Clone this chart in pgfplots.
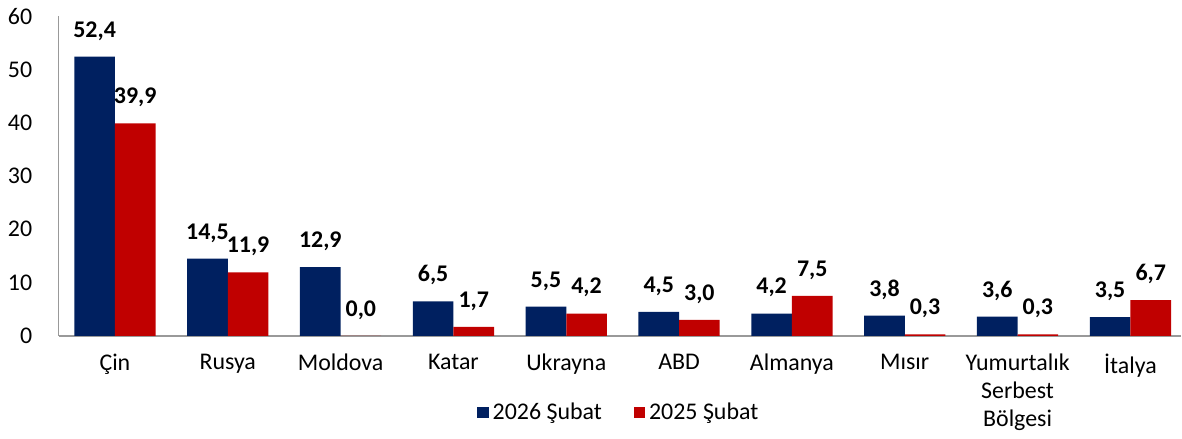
\documentclass[border=0pt]{standalone}
\usepackage{pgfplots}
\pgfplotsset{compat=1.18}
\usepackage{fontspec}
\setmainfont{Carlito}
\definecolor{navy}{HTML}{002060}
\definecolor{darkred}{HTML}{C00000}
\begin{document}
\fontsize{12}{14}\selectfont
\begin{tikzpicture}
\begin{axis}[
    scale only axis,
    width=563.5pt, height=160.5pt,
    ybar=0pt, bar width=0.36,
    ymin=0, ymax=60, ytick={0,10,...,60},
    xmin=-0.5, xmax=9.45,
    xtick={0,...,9},
    xticklabels={Çin, Rusya, Moldova, Katar, Ukrayna, ABD, Almanya, Mısır, {Yumurtalık\\Serbest\\Bölgesi}, İtalya},
    xticklabel style={align=center, yshift=-5pt},
    yticklabel style={xshift=-9pt},
    major tick length=0pt,
    axis x line*=bottom, axis y line*=left,
    axis line style={gray!80, line width=0.8pt},
    /pgf/number format/assume math mode=true,
    nodes near coords,
    every node near coord/.append style={font=\bfseries, yshift=4pt},
    nodes near coords style={/pgf/number format/.cd, fixed, fixed zerofill, precision=1, use comma},
    legend style={at={(0.5,-0.24)}, anchor=center, draw=none, legend columns=-1,
        /tikz/every even column/.append style={column sep=14pt}},
    legend image code/.code={\fill[#1] (0cm,-0.1cm) rectangle (0.2cm,0.1cm);},
    clip=false,
]
\addplot[fill=navy, draw=none] coordinates {
    (0,52.4) (1,14.5) (2,12.9) (3,6.5) (4,5.5) (5,4.5) (6,4.2) (7,3.8) (8,3.6) (9,3.5)
};
\addlegendentry{2026 Şubat}
\addplot[fill=darkred, draw=none] coordinates {
    (0,39.9) (1,11.9) (2,0.0) (3,1.7) (4,4.2) (5,3.0) (6,7.5) (7,0.3) (8,0.3) (9,6.7)
};
\addlegendentry{2025 Şubat}
\end{axis}
\end{tikzpicture}
\end{document}
